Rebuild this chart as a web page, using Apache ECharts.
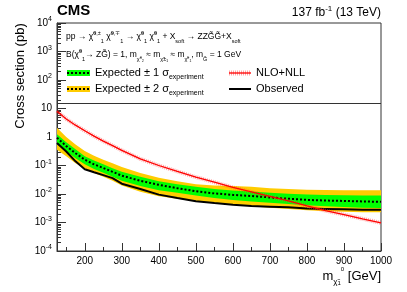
<!DOCTYPE html>
<html><head><meta charset="utf-8">
<script src="https://cdn.jsdelivr.net/npm/echarts@6/dist/echarts.min.js"></script>
<style>html,body{margin:0;padding:0;background:#fff}#c{width:407px;height:292px}</style>
</head><body><div id="c"></div>
<script>
const masses   = [125,150,175,200,225,250,275,300,350,400,450,500,550,600,650,700,750,800,850,900,950,1000];
const theory   = [8.0,4.3,2.6,1.65,1.07,0.72,0.50,0.34,0.17,0.10,0.062,0.039,0.026,0.017,0.0118,0.0082,0.0057,0.0038,0.0026,0.0019,0.00135,0.00097];
const expected = [0.94,0.48,0.27,0.16,0.11,0.082,0.060,0.044,0.029,0.021,0.016,0.0125,0.0105,0.0093,0.0085,0.0076,0.0068,0.0062,0.0059,0.0057,0.0055,0.0053];
const plus1    = [1.25,0.66,0.37,0.21,0.15,0.11,0.080,0.060,0.040,0.028,0.022,0.018,0.015,0.0133,0.0122,0.011,0.0102,0.0096,0.0092,0.0090,0.0089,0.0088];
const minus1   = [0.55,0.32,0.18,0.11,0.075,0.056,0.040,0.029,0.019,0.0135,0.011,0.0088,0.0072,0.0062,0.0055,0.0049,0.0045,0.0040,0.0037,0.0035,0.0033,0.0032];
const plus2    = [2.1,1.0,0.55,0.32,0.22,0.16,0.12,0.088,0.055,0.037,0.028,0.022,0.020,0.019,0.018,0.016,0.015,0.0140,0.0138,0.0136,0.0135,0.0135];
const minus2   = [0.36,0.21,0.12,0.080,0.055,0.040,0.029,0.020,0.012,0.0083,0.0068,0.0056,0.0048,0.0042,0.0037,0.0033,0.0030,0.0027,0.0025,0.0024,0.0023,0.0023];
const observed = [0.62,0.31,0.14,0.074,0.058,0.046,0.036,0.023,0.015,0.0095,0.0072,0.0056,0.0048,0.0042,0.0038,0.0036,0.0034,0.0031,0.0030,0.0029,0.0028,0.0028];

const xMajor = [200,300,400,500,600,700,800,900,1000];
const xMinor = [150,250,350,450,550,650,750,850,950];
const yMajor = [1e-4,1e-3,1e-2,1e-1,1,10,100,1000,10000];
const yMinor = [];
for (let e = -4; e < 4; e++) for (let k = 2; k <= 9; k++) yMinor.push(k * Math.pow(10, e));

const FONT = 'Liberation Sans, Arial, Helvetica, sans-serif';
const pair = (ys) => masses.map((m, i) => [m, ys[i]]);

function band(lo, hi, color, z) {
  return {
    type: 'custom', z: z, silent: true,
    data: [[masses[0], hi[0]]],
    encode: { x: 0, y: 1 },
    renderItem: function (params, api) {
      const pts = [];
      for (let i = 0; i < masses.length; i++) pts.push(api.coord([masses[i], hi[i]]));
      for (let i = masses.length - 1; i >= 0; i--) pts.push(api.coord([masses[i], lo[i]]));
      return { type: 'polygon', shape: { points: pts }, style: { fill: color } };
    }
  };
}

const chart = echarts.init(document.getElementById('c'), null, { renderer: 'canvas' });
const supRich = {
  n: { fontSize: 10, fontFamily: FONT, color: '#000', lineHeight: 14 },
  sup: { fontSize: 7, fontFamily: FONT, color: '#000', verticalAlign: 'top', lineHeight: 14 }
};
const axCommon = { type: 'value', min: 125, max: 1000, position: 'bottom', splitLine: { show: false } };
const yCommon = { type: 'log', logBase: 10, min: 1e-4, max: 1e4, position: 'left', splitLine: { show: false } };
const smallRich = {
  n: { fontSize: 8.5, fontFamily: FONT, color: '#000', lineHeight: 14 },
  u: { fontSize: 5.5, fontFamily: FONT, color: '#000', verticalAlign: 'top', lineHeight: 14 },
  d: { fontSize: 5.5, fontFamily: FONT, color: '#000', verticalAlign: 'bottom', lineHeight: 14 }
};

chart.setOption({
  animation: false,
  grid: { left: 57, right: 26, top: 23, bottom: 41, show: true, borderColor: '#333', borderWidth: 1, backgroundColor: 'transparent' },
  xAxis: [
    Object.assign({}, axCommon, {
      axisLine: { show: true, lineStyle: { color: '#333', width: 1 } },
      axisTick: { show: true, inside: true, length: 8, customValues: xMajor, lineStyle: { color: '#333' } },
      axisLabel: { show: true, customValues: xMajor, margin: 5, fontSize: 10, fontFamily: FONT, color: '#000',
        formatter: function (v) { return String(Math.round(v)); } }
    }),
    Object.assign({}, axCommon, {
      axisLine: { show: false },
      axisTick: { show: true, inside: true, length: 4, customValues: xMinor, lineStyle: { color: '#333' } },
      axisLabel: { show: false }
    })
  ],
  yAxis: [
    Object.assign({}, yCommon, {
      axisLine: { show: true, lineStyle: { color: '#333', width: 1 } },
      axisTick: { show: true, inside: true, length: 9, customValues: yMajor, lineStyle: { color: '#333' } },
      axisLabel: {
        show: true, customValues: yMajor, margin: 5, fontSize: 10, fontFamily: FONT, color: '#000',
        formatter: function (v) {
          const e = Math.round(Math.log10(v));
          if (e === 0) return '{n|1}';
          if (e === 1) return '{n|10}';
          return '{n|10}{sup|' + e + '}';
        },
        rich: supRich
      }
    }),
    Object.assign({}, yCommon, {
      axisLine: { show: false },
      axisTick: { show: true, inside: true, length: 4, customValues: yMinor, lineStyle: { color: '#333' } },
      axisLabel: { show: false }
    })
  ],
  series: [
    band(minus2, plus2, '#FFCC00', 1),
    band(minus1, plus1, '#00FF00', 2),
    { type: 'line', data: pair(expected), z: 3, symbol: 'none', lineStyle: { color: '#000', width: 2, type: [2, 2] } },
    { type: 'line', data: pair(observed), z: 4, symbol: 'none', lineStyle: { color: '#000', width: 2 } },
    { type: 'line', data: pair(theory), z: 5, symbol: 'none', lineStyle: { color: 'rgba(255,60,60,0.45)', width: 4, type: [1, 1] } },
    { type: 'line', data: pair(theory), z: 6, symbol: 'none', lineStyle: { color: '#FF0000', width: 1.3 } }
  ],
  graphic: [
    { type: 'text', left: 57, top: 3, style: { text: 'CMS', font: 'bold 15px ' + FONT, fill: '#000' } },
    { type: 'text', x: 381, y: 13, style: {
        text: '{n|137 fb}{s|-1}{n| (13 TeV)}', align: 'right', verticalAlign: 'middle',
        rich: { n: { fontSize: 12, fontFamily: FONT, color: '#000', lineHeight: 16 }, s: { fontSize: 8, fontFamily: FONT, color: '#000', verticalAlign: 'top', lineHeight: 16 } } } },
    { type: 'text', x: 20, y: 76, rotation: Math.PI / 2, style: {
        text: 'Cross section (pb)', align: 'center', verticalAlign: 'middle', font: '13px ' + FONT, fill: '#000' } },
    { type: 'text', x: 381, y: 276, style: {
        text: '{n|m}{s|χ̃}{ss|1}{su|0}{n| [GeV]}', align: 'right', verticalAlign: 'middle',
        rich: {
          n: { fontSize: 13, fontFamily: FONT, color: '#000', lineHeight: 20 },
          s: { fontSize: 8, fontFamily: FONT, color: '#000', verticalAlign: 'bottom', lineHeight: 20 },
          ss: { fontSize: 6, fontFamily: FONT, color: '#000', verticalAlign: 'bottom', lineHeight: 16 },
          su: { fontSize: 6, fontFamily: FONT, color: '#000', verticalAlign: 'top', lineHeight: 20 }
        } } },
    { type: 'line', shape: { x1: 57, y1: 103.5, x2: 381, y2: 103.5 }, style: { stroke: '#333', lineWidth: 1 } },
    { type: 'text', x: 66, y: 37, style: {
        text: '{n|pp → χ̃}{u|0,±}{d|1}{n| χ̃}{u|0,∓}{d|1}{n| → χ̃}{u|0}{d|1}{n| χ̃}{u|0}{d|1}{n| + X}{d|soft}{n| → ZZG̃G̃+X}{d|soft}',
        verticalAlign: 'middle', rich: smallRich } },
    { type: 'text', x: 66, y: 55, style: {
        text: '{n|B(χ̃}{u|0}{d|1}{n|→ ZG̃) = 1, m}{d|χ̃⁰₂}{n| ≈ m}{d|χ̃±₁}{n| ≈ m}{d|χ̃⁰₁}{n|, m}{d|G̃}{n| = 1 GeV}',
        verticalAlign: 'middle', rich: smallRich } },
    { type: 'rect', shape: { x: 67, y: 70, width: 23, height: 6 }, style: { fill: '#00FF00' } },
    { type: 'line', shape: { x1: 67, y1: 73, x2: 90, y2: 73 }, style: { stroke: '#000', lineWidth: 2, lineDash: [2, 2] } },
    { type: 'text', x: 95, y: 73, style: {
        text: '{n|Expected ± 1 σ}{d|experiment}', verticalAlign: 'middle',
        rich: { n: { fontSize: 11, fontFamily: FONT, color: '#000', lineHeight: 16 }, d: { fontSize: 7, fontFamily: FONT, color: '#000', verticalAlign: 'bottom', lineHeight: 16 } } } },
    { type: 'rect', shape: { x: 67, y: 86, width: 23, height: 6 }, style: { fill: '#FFCC00' } },
    { type: 'line', shape: { x1: 67, y1: 89, x2: 90, y2: 89 }, style: { stroke: '#000', lineWidth: 2, lineDash: [2, 2] } },
    { type: 'text', x: 95, y: 89, style: {
        text: '{n|Expected ± 2 σ}{d|experiment}', verticalAlign: 'middle',
        rich: { n: { fontSize: 11, fontFamily: FONT, color: '#000', lineHeight: 16 }, d: { fontSize: 7, fontFamily: FONT, color: '#000', verticalAlign: 'bottom', lineHeight: 16 } } } },
    { type: 'line', shape: { x1: 229, y1: 73, x2: 251, y2: 73 }, style: { stroke: 'rgba(255,60,60,0.45)', lineWidth: 5, lineDash: [1, 1] } },
    { type: 'line', shape: { x1: 229, y1: 73, x2: 251, y2: 73 }, style: { stroke: '#FF0000', lineWidth: 1.3 } },
    { type: 'text', x: 256, y: 73, style: { text: 'NLO+NLL', verticalAlign: 'middle', font: '11px ' + FONT, fill: '#000' } },
    { type: 'line', shape: { x1: 229, y1: 89, x2: 251, y2: 89 }, style: { stroke: '#000', lineWidth: 2 } },
    { type: 'text', x: 256, y: 89, style: { text: 'Observed', verticalAlign: 'middle', font: '11px ' + FONT, fill: '#000' } }
  ]
});
</script></body></html>
